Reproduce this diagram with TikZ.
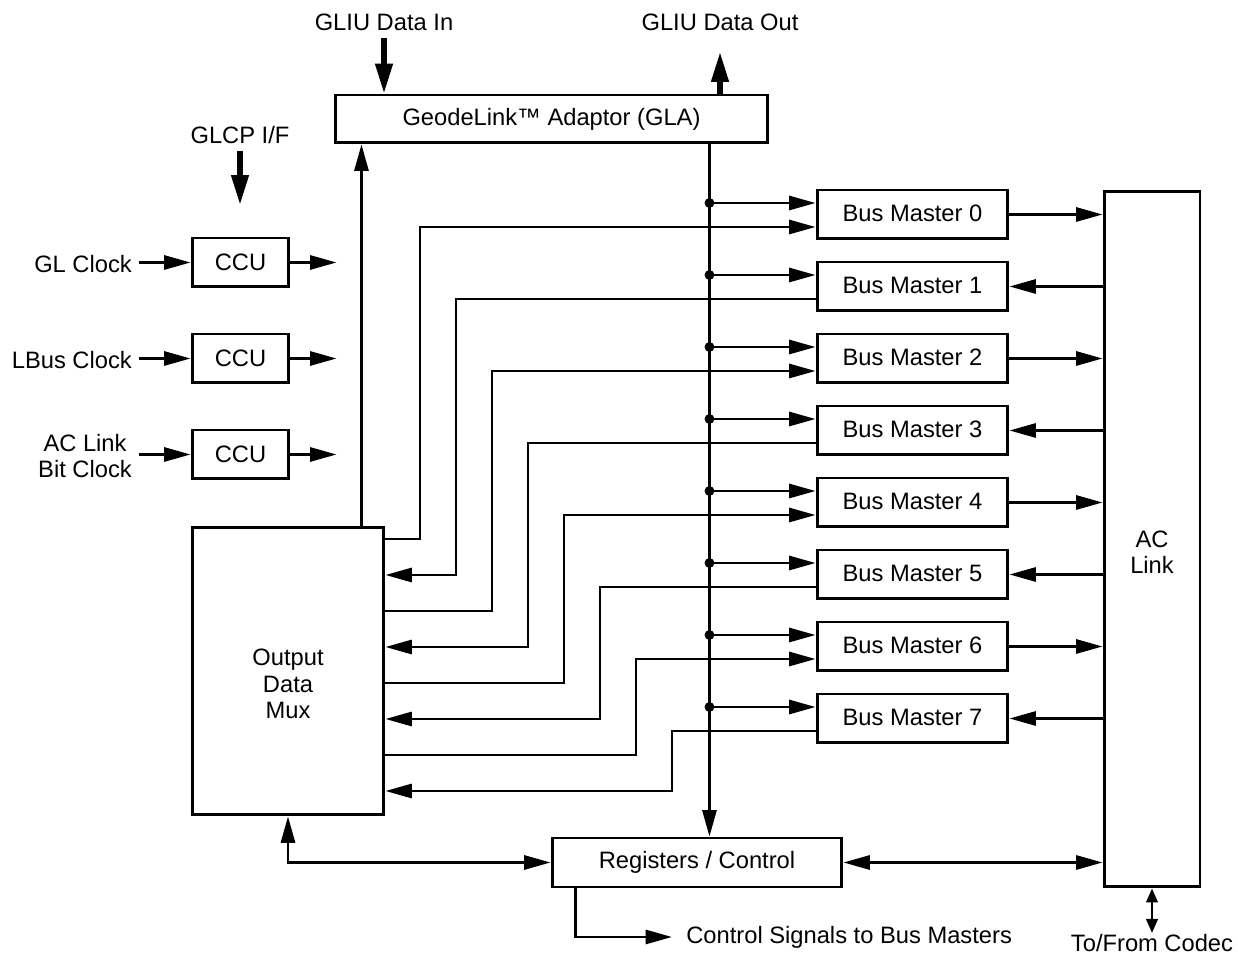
\documentclass[tikz,border=0pt]{standalone}
\usepackage{fontspec}
\setmainfont{Liberation Sans}
\usetikzlibrary{arrows.meta, positioning}

\begin{document}
\begin{tikzpicture}[
    x=0.02cm, y=-0.02cm,   % 1 unit = 1 px of the sheet, y runs downwards
    >={Triangle[length=15pt, width=8pt]},
    font=\fontsize{13.5}{15}\selectfont,
    line width=1.5pt,
    block/.style={draw, line width=1.7pt, inner sep=2pt, align=center},
    busmaster/.style={block, minimum width=3.82cm, minimum height=0.98cm},
    ccu/.style={block, minimum width=1.94cm, minimum height=0.98cm},
    fat/.style={line width=3pt, -{Triangle[length=17pt, width=9.5pt]}},
    tapdot/.style={circle, fill, inner sep=0pt, minimum size=5.6pt},
    small tips/.style={{Triangle[length=8pt, width=6.5pt]}-{Triangle[length=8pt, width=6.5pt]}},
]
\useasboundingbox (0,0) rectangle (1238,955);

% ── Main blocks ───────────────────────────────────────────────────────────────
\node[block, minimum width=8.66cm, minimum height=0.96cm] (gla) at (551.5,119)
    {GeodeLink™ Adaptor (GLA)};
\node[block, minimum width=3.84cm, minimum height=5.76cm,
      label={[align=center, yshift=-0.26cm]center:Output\\Data\\Mux}] (mux) at (288,671) {};
\node[block, minimum width=5.8cm, minimum height=0.98cm] (regs) at (697,862.5)
    {Registers / Control};
\node[block, minimum width=1.92cm, minimum height=13.92cm,
      label={[align=center, yshift=-0.26cm]center:AC\\Link}] (ac) at (1152,539) {};

% ── Clock control units ───────────────────────────────────────────────────────
\node[ccu] (ccu1) at (240.5,262.5) {CCU};
\node[ccu] (ccu2) at (240.5,358.5) {CCU};
\node[ccu] (ccu3) at (240.5,454.5) {CCU};

\node[anchor=east] (glclk) at (139,264) {GL Clock};
\node[anchor=east] (lbclk) at (139,360) {LBus Clock};
\node[anchor=east, align=center] (acclk) at (139,456) {AC Link\\Bit Clock};

\draw[->] (glclk.east |- ccu1.west) -- (ccu1.west);
\draw[->] (lbclk.east |- ccu2.west) -- (ccu2.west);
\draw[->] (acclk.east |- ccu3.west) -- (ccu3.west);
\foreach \i in {1,2,3}
    \draw[->] (ccu\i.east) -- ++(46,0);

% ── GLIU / GLCP interfaces ────────────────────────────────────────────────────
\node (gliuin) at (384,22) {GLIU Data In};
\node (gliuout) at (720,22) {GLIU Data Out};
\node (glcp) at (240,135) {GLCP I/F};
\coordinate (outtip) at (720,52);

\draw[fat] (gliuin.south) -- (gliuin.south |- gla.north);
\draw[fat] (gla.north -| outtip) -- (outtip);
\draw[fat] (glcp.south) -- ++(0,54);

% mux output up to the adaptor
\coordinate (mt) at ([xshift=-0.48cm]mux.north east);
\draw[->] (mt) -- (mt |- gla.south);

% ── Internal bus down to registers ────────────────────────────────────────────
\coordinate (bt) at ([xshift=-1.2cm]gla.south east);
\draw[->] (bt) -- (bt |- regs.north);

% ── Bus masters ───────────────────────────────────────────────────────────────
\foreach \k in {0,...,7}{
    \node[busmaster, text depth=1pt] (bm\k) at (912.5,{214.5+72*\k}) {Bus Master \k};
    \node[tapdot] (tap\k) at (bt |- 0,{203+72*\k}) {};
    \draw[->] (tap\k.center) -- (tap\k.center -| bm\k.west);
    \ifodd\k
        % read back: bus master -> mux, AC link -> bus master
        \draw[->] (bm\k.west |- 0,{227+72*\k}) -| ({420+36*\k},{539+36*\k})
            -- (mux.east |- 0,{539+36*\k});
        \draw[->] (bm\k.east -| ac.west) -- (bm\k.east);
    \else
        % mux -> bus master, bus master -> AC link
        \draw[->] (mux.east |- 0,{539+36*\k}) -| ({420+36*\k},{227+72*\k})
            -- (bm\k.west |- 0,{227+72*\k});
        \draw[->] (bm\k.east) -- (bm\k.east -| ac.west);
    \fi
}

% ── Registers / control links ─────────────────────────────────────────────────
\draw[<->] (mux.south) |- (regs.west);
\draw[<->] (regs.east) -- (regs.east -| ac.west);

\node[anchor=west, inner sep=0pt] (ctl) at (685,937) {Control Signals to Bus Masters};
\draw[->] ([xshift=0.5cm]regs.south west) |- ([xshift=-0.26cm]ctl.west);

% ── Codec link ────────────────────────────────────────────────────────────────
\node[inner sep=0pt] (codec) at (1152,943) {To/From Codec};
\draw[small tips] (ac.south) -- (codec.north);

\end{tikzpicture}
\end{document}
